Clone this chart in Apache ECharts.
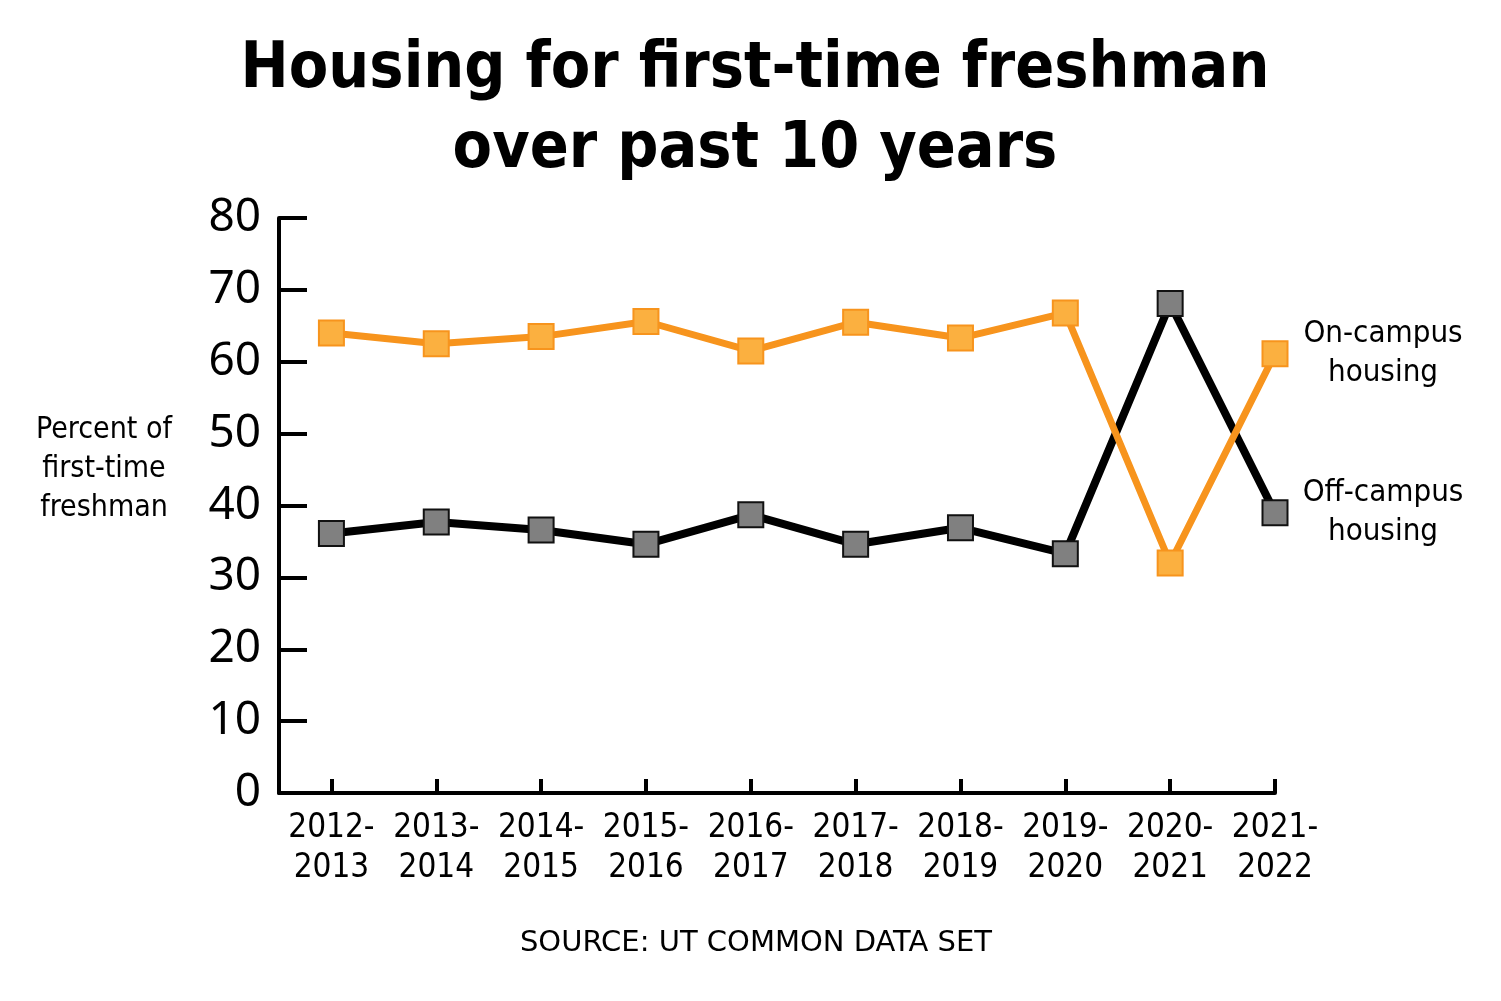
<!DOCTYPE html>
<html>
<head>
<meta charset="utf-8">
<style>
  html, body { margin: 0; padding: 0; background: #ffffff; }
  #chart { width: 1501px; height: 1001px; }
</style>
<script src="https://cdn.jsdelivr.net/npm/echarts@6/dist/echarts.min.js"></script>
</head>
<body>
<div id="chart"></div>
<script>
const categories = ['2012-\n2013', '2013-\n2014', '2014-\n2015', '2015-\n2016', '2016-\n2017',
                    '2017-\n2018', '2018-\n2019', '2019-\n2020', '2020-\n2021', '2021-\n2022'];
const onCampus  = [64.0, 62.5, 63.5, 65.6, 61.5, 65.5, 63.3, 66.8, 32.0, 61.1];
const offCampus = [36.1, 37.7, 36.6, 34.6, 38.7, 34.6, 36.9, 33.3, 68.1, 39.0];
const yTicks = [0, 10, 20, 30, 40, 50, 60, 70, 80];
const seriesNames = ['On-campus\nhousing', 'Off-campus\nhousing'];

const catIdx = categories.map((c, i) => i);
const narrow = '"DejaVu Sans Condensed", "Liberation Sans Narrow", sans-serif';

const chart = echarts.init(document.getElementById('chart'), null, { renderer: 'canvas' });
chart.setOption({
  animation: false,
  backgroundColor: '#ffffff',
  title: [
    {
      text: 'Housing for first-time freshman\nover past 10 years',
      left: 750, top: 25, textAlign: 'center',
      textStyle: { fontFamily: narrow, fontWeight: 'bold', fontSize: 64, lineHeight: 80, color: '#000' }
    },
    {
      text: 'Percent of\nfirst-time\nfreshman',
      left: 99, top: 406, textAlign: 'center',
      textStyle: { fontFamily: narrow, fontWeight: 'normal', fontSize: 30, lineHeight: 39, color: '#000', align: 'center' }
    },
    {
      text: 'SOURCE: UT COMMON DATA SET',
      left: 751, top: 924, textAlign: 'center',
      textStyle: { fontFamily: '"DejaVu Sans", sans-serif', fontWeight: 'normal', fontSize: 29, lineHeight: 28, color: '#000' }
    }
  ],
  grid: { left: 279, right: 226, top: 218, bottom: 208, containLabel: false, outerBoundsMode: 'none' },
  xAxis: {
    type: 'value', min: -0.5, max: 9,
    axisLine: { show: true, onZero: false, lineStyle: { color: '#000', width: 4 } },
    axisTick: { show: true, inside: true, length: 14, customValues: catIdx, lineStyle: { color: '#000', width: 4 } },
    axisLabel: {
      show: true, customValues: catIdx, margin: 15,
      formatter: (v) => categories[Math.round(v)],
      fontFamily: narrow, fontSize: 33, lineHeight: 40, color: '#000'
    },
    splitLine: { show: false }
  },
  yAxis: {
    type: 'value', min: 0, max: 80,
    axisLine: { show: true, onZero: false, lineStyle: { color: '#000', width: 4 } },
    axisTick: { show: true, inside: true, length: 28, customValues: yTicks, lineStyle: { color: '#000', width: 4 } },
    axisLabel: {
      show: true, customValues: yTicks, margin: 18,
      fontFamily: '"Noto Sans", sans-serif', fontSize: 46, color: '#000'
    },
    splitLine: { show: false }
  },
  series: [
    {
      name: seriesNames[1], type: 'line',
      data: offCampus.map((v, i) => [i, v]),
      symbol: 'rect', symbolSize: 25,
      lineStyle: { color: '#000', width: 8 },
      itemStyle: { color: '#808080', borderColor: '#111', borderWidth: 2 },
      endLabel: {
        show: true, formatter: seriesNames[1], distance: 108, align: 'center',
        fontFamily: narrow, fontSize: 31, lineHeight: 39, color: '#000'
      },
      z: 2
    },
    {
      name: seriesNames[0], type: 'line',
      data: onCampus.map((v, i) => [i, v]),
      symbol: 'rect', symbolSize: 25,
      lineStyle: { color: '#F7941D', width: 7 },
      itemStyle: { color: '#FBB040', borderColor: '#F7941D', borderWidth: 2 },
      endLabel: {
        show: true, formatter: seriesNames[0], distance: 108, align: 'center',
        fontFamily: narrow, fontSize: 31, lineHeight: 39, color: '#000'
      },
      z: 3
    }
  ]
});
</script>
</body>
</html>
